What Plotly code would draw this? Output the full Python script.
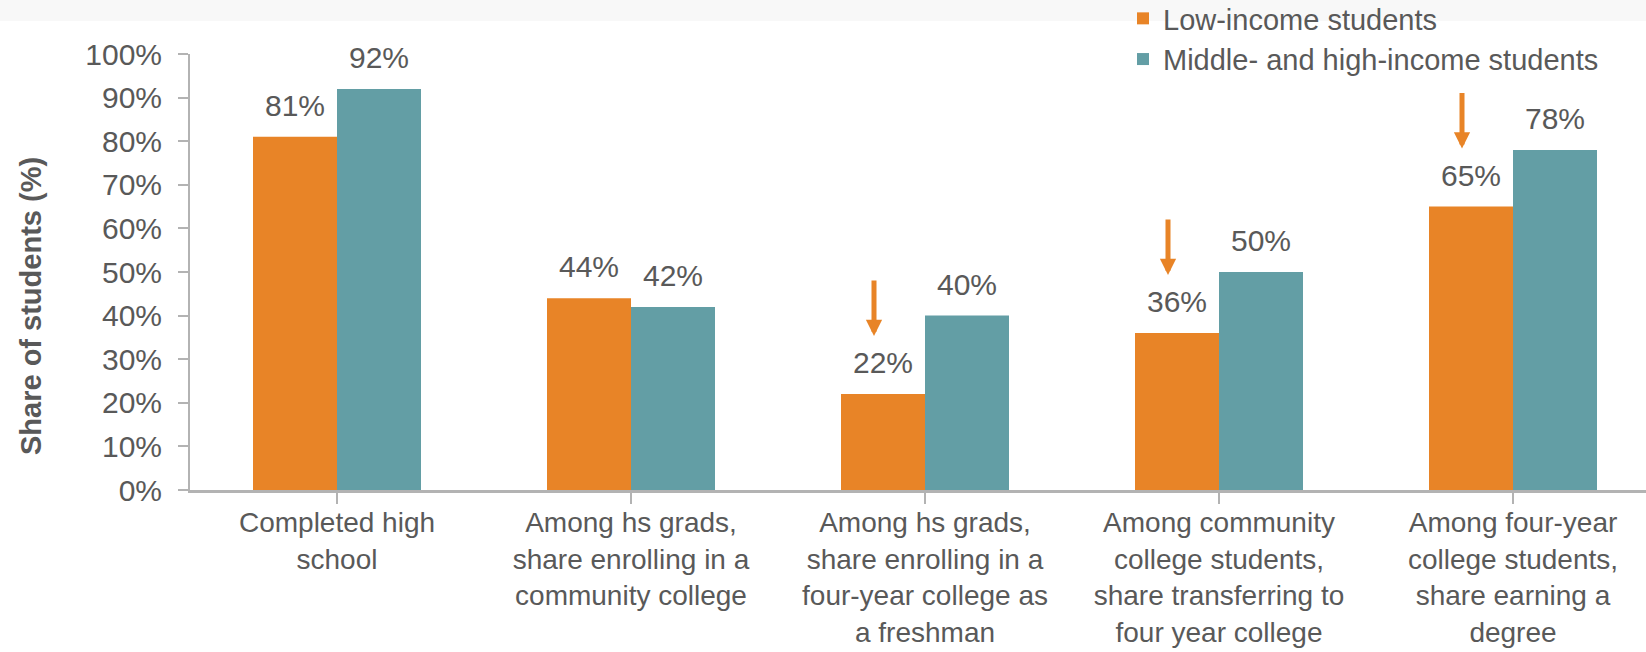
import plotly.graph_objects as go

categories = [
    "Completed high<br>school",
    "Among hs grads,<br>share enrolling in a<br>community college",
    "Among hs grads,<br>share enrolling in a<br>four-year college as<br>a freshman",
    "Among community<br>college students,<br>share transferring to<br>four year college",
    "Among four-year<br>college students,<br>share earning a<br>degree",
]
low_income = [81, 44, 22, 36, 65]
mid_high_income = [92, 42, 40, 50, 78]
arrow_cats = [2, 3, 4]
y_ticks = [0, 10, 20, 30, 40, 50, 60, 70, 80, 90, 100]
y_title = "Share of students (%)"

ORANGE = "#E88427"
TEAL = "#639EA5"
TEXT = "#595959"
AXIS = "#B3B3B3"
FONT = "Liberation Sans, Arial, sans-serif"

W, H = 1646, 652
L, R, T, B = 190, 0, 54, 162
cat_px = 294.0
plot_w = W - L - R
plot_h = H - T - B
bar_half = cat_px * (1 - 0.4286) / 4  # half-width offset of each bar in a group

fig = go.Figure()
fig.add_trace(go.Bar(name="Low-income students", x=list(range(5)), y=low_income,
                     marker=dict(color=ORANGE, line=dict(width=0)),
                     legendgroup="a"))
fig.add_trace(go.Bar(name="Middle- and high-income students", x=list(range(5)), y=mid_high_income,
                     marker=dict(color=TEAL, line=dict(width=0)),
                     legendgroup="b"))

annotations = []
for i in range(5):
    for vals, sign in ((low_income, -1), (mid_high_income, 1)):
        annotations.append(dict(
            x=i, y=vals[i], xref="x", yref="y", text=f"{vals[i]}%",
            showarrow=False, xshift=sign * bar_half, yshift=13,
            yanchor="bottom", font=dict(size=30, color=TEXT, family=FONT)))
for i in arrow_cats:
    annotations.append(dict(
        x=i, y=low_income[i], xref="x", yref="y", text="",
        showarrow=True, arrowhead=2, arrowsize=0.65, arrowwidth=5,
        arrowcolor=ORANGE, ax=0, ay=-57, xshift=-bar_half - 9, yshift=58))

# vertical axis title placed as rotated text left of the tick labels
annotations.append(dict(
    x=(31 - L) / plot_w, y=(H - B - 306) / plot_h, xref="paper", yref="paper",
    text=f"<b>{y_title}</b>", textangle=-90, showarrow=False,
    xanchor="center", yanchor="middle",
    font=dict(size=29, color=TEXT, family=FONT)))

fig.update_layout(
    width=W, height=H,
    margin=dict(l=L, r=R, t=T, b=B, autoexpand=False),
    paper_bgcolor="white", plot_bgcolor="white",
    font=dict(family=FONT, color=TEXT, size=29),
    barmode="group", bargap=0.4286, bargroupgap=0,
    showlegend=True,
    legend=dict(
        x=(1123 - L) / plot_w, xanchor="left",
        y=1 + (T + 7) / plot_h, yanchor="top",
        font=dict(size=29, color=TEXT, family=FONT),
        bgcolor="rgba(0,0,0,0)", traceorder="grouped", tracegroupgap=0,
        itemclick=False,
    ),
    annotations=annotations,
    shapes=[dict(type="rect", xref="paper", yref="paper",
                 x0=-L / plot_w - 0.01, x1=1.01,
                 y0=1 + (T - 21) / plot_h, y1=1 + (T + 2) / plot_h,
                 fillcolor="#F8F8F8", line=dict(width=0), layer="below")],
    xaxis=dict(
        range=[-0.5, -0.5 + plot_w / cat_px], automargin=False,
        tickmode="array", tickvals=list(range(5)), ticktext=categories,
        tickson="boundaries", ticks="outside", ticklen=11, tickwidth=1.5,
        tickcolor=AXIS, showline=True, linecolor=AXIS, linewidth=2.5,
        showgrid=False, zeroline=False, ticklabelstandoff=-5,
        tickfont=dict(size=28, color=TEXT, family=FONT),
        fixedrange=True,
    ),
    yaxis=dict(
        range=[0, 100], tickmode="array", tickvals=y_ticks, automargin=False,
        ticktext=[f"{v}%" for v in y_ticks],
        ticks="outside", ticklen=10, tickwidth=1.5, tickcolor=AXIS,
        showline=True, linecolor=AXIS, linewidth=2,
        showgrid=False, zeroline=False, ticklabelstandoff=10,
        tickfont=dict(size=30, color=TEXT, family=FONT),
        fixedrange=True,
    ),
)

fig.write_html("out.html", config={"displayModeBar": False})
